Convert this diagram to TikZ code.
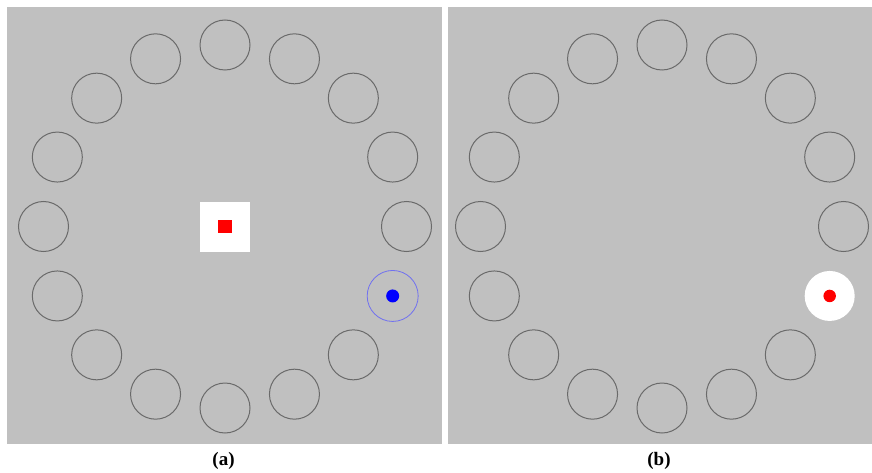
\documentclass[tikz,border=0pt]{standalone}
\usepackage{fontspec}
\setmainfont{Liberation Serif}
\usetikzlibrary{calc}
\definecolor{panelgray}{HTML}{C0C0C0}
\definecolor{ringgray}{HTML}{6A6A6A}
\definecolor{cueblue}{HTML}{7070F0}
\begin{document}
\begin{tikzpicture}[
    x=1pt,y=1pt,
    every node/.style={inner sep=0pt,outer sep=0pt},
    slot/.style={circle,draw=ringgray,line width=1pt,minimum size=50pt},
    caption/.style={font=\bfseries\fontsize{19}{22}\selectfont}
]
\useasboundingbox[fill=white] (0,0) rectangle (872,472);
% two gray panels
\fill[panelgray] (7,28) rectangle (442,465);
\fill[panelgray] (447.5,28) rectangle (872,465);

\coordinate (CA) at (225,245.5);
\coordinate (CB) at (662,245.5);

% ring of placeholders, panel (a)
\foreach \i in {0,...,14}
    \node[slot] (A\i) at ($(CA)+(\i*22.5:181.5)$) {};
% ring of placeholders, panel (b)
\foreach \i in {0,...,14}
    \node[slot] (B\i) at ($(CB)+(\i*22.5:181.5)$) {};

% panel (a): fixation box and cued target
\node[fill=white,minimum size=50pt] (fixbox) at (CA) {};
\node[fill=red,minimum size=13.5pt] (fixdot) at (fixbox) {};
\node[circle,draw=cueblue,line width=0.8pt,minimum size=51pt] (cueA) at ($(CA)+(-22.5:181.5)$) {};
\node[circle,fill=blue,minimum size=13pt] (dotA) at (cueA) {};

% panel (b): white disc with red dot
\node[circle,fill=white,minimum size=50pt] (cueB) at ($(CB)+(-22.5:181.5)$) {};
\node[circle,fill=red,minimum size=12.5pt] (dotB) at (cueB) {};

% captions
\node[caption] (capA) at (223.5,11) {(a)};
\node[caption] (capB) at (659,11) {(b)};
\end{tikzpicture}
\end{document}
